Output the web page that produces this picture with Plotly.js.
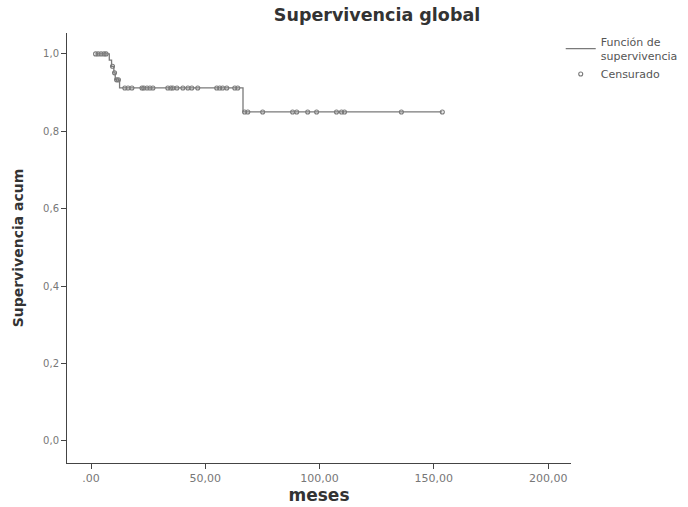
<!DOCTYPE html>
<html>
<head>
<meta charset="utf-8">
<script src="https://cdn.plot.ly/plotly-3.0.1.min.js"></script>
<style>html,body{margin:0;padding:0;background:#fff}#chart{width:688px;height:507px}</style>
</head>
<body>
<div id="chart"></div>
<script>
// Kaplan-Meier step function (time in months, cumulative survival)
var survTime = [2, 8.0, 9.0, 10.0, 10.6, 12.5, 66.5, 153.7];
var survValue = [1.0, 0.984, 0.968, 0.951, 0.933, 0.912, 0.85, 0.85];

// Censored observations
var censTime = [2, 3.1, 4.4, 5.7, 6.6, 9.4, 10.3, 11.2, 12.0,
  14.8, 16.2, 17.9, 22.3, 23.1, 24.5, 25.8, 27.1, 33.6, 34.9, 35.8, 37.6,
  40.2, 42.4, 44.1, 46.7, 55.0, 56.3, 57.6, 59.4, 62.9, 64.2,
  67.2, 68.6, 75.1, 88.2, 90.0, 94.8, 98.7, 107.4, 109.6, 110.9, 135.8, 153.7];
var censValue = [1.0, 1.0, 1.0, 1.0, 1.0, 0.968, 0.951, 0.933, 0.933,
  0.912, 0.912, 0.912, 0.912, 0.912, 0.912, 0.912, 0.912, 0.912, 0.912, 0.912, 0.912,
  0.912, 0.912, 0.912, 0.912, 0.912, 0.912, 0.912, 0.912, 0.912, 0.912,
  0.85, 0.85, 0.85, 0.85, 0.85, 0.85, 0.85, 0.85, 0.85, 0.85, 0.85, 0.85];

var xTickVals = [0, 50, 100, 150, 200];
var xTickText = ['.00', '50,00', '100,00', '150,00', '200,00'];
var yTickVals = [0, 0.2, 0.4, 0.6, 0.8, 1.0];
var yTickText = ['0,0', '0,2', '0,4', '0,6', '0,8', '1,0'];

var lineColor = '#7a7a7a';

var traces = [
  {
    x: survTime, y: survValue, type: 'scatter', mode: 'lines',
    line: {shape: 'hv', color: lineColor, width: 1.3},
    name: 'Función de<br>supervivencia'
  },
  {
    x: censTime, y: censValue, type: 'scatter', mode: 'markers',
    marker: {symbol: 'circle-open', size: 4, color: lineColor, line: {width: 1.1, color: lineColor}},
    name: 'Censurado'
  }
];

var fontFam = '"DejaVu Sans", Verdana, sans-serif';

var layout = {
  width: 688, height: 507,
  paper_bgcolor: '#fff', plot_bgcolor: '#fff',
  margin: {l: 67, r: 117, t: 33, b: 44, autoexpand: false},
  title: {text: '<b>Supervivencia global</b>', x: 0.548, xanchor: 'center', y: 0.97, yanchor: 'middle',
    font: {family: fontFam, size: 17.5, color: '#333'}},
  xaxis: {
    range: [-10.5, 210], tickvals: xTickVals, ticktext: xTickText,
    showline: true, linecolor: '#444', linewidth: 1, ticks: 'outside', ticklen: 5, tickcolor: '#444',
    showgrid: false, zeroline: false,
    tickfont: {family: fontFam, size: 11, color: '#777'},
    title: {text: '<b>meses</b>', font: {family: fontFam, size: 17, color: '#333'}, standoff: 4}
  },
  yaxis: {
    range: [-0.057, 1.054], tickvals: yTickVals, ticktext: yTickText,
    showline: true, linecolor: '#444', linewidth: 1, ticks: 'outside', ticklen: 5, tickcolor: '#444',
    showgrid: false, zeroline: false,
    tickfont: {family: fontFam, size: 10, color: '#777'},
    title: {text: '<b>Supervivencia acum</b>', font: {family: fontFam, size: 14, color: '#333'}, standoff: 16}
  },
  showlegend: true,
  legend: {xref: 'container', yref: 'container', x: 0.815, xanchor: 'left', y: 0.945, yanchor: 'top',
    bgcolor: 'rgba(0,0,0,0)',
    font: {family: fontFam, size: 11, color: '#555'}, itemwidth: 30, tracegroupgap: 0}
};

Plotly.newPlot('chart', traces, layout, {displayModeBar: false, staticPlot: true});
</script>
</body>
</html>
